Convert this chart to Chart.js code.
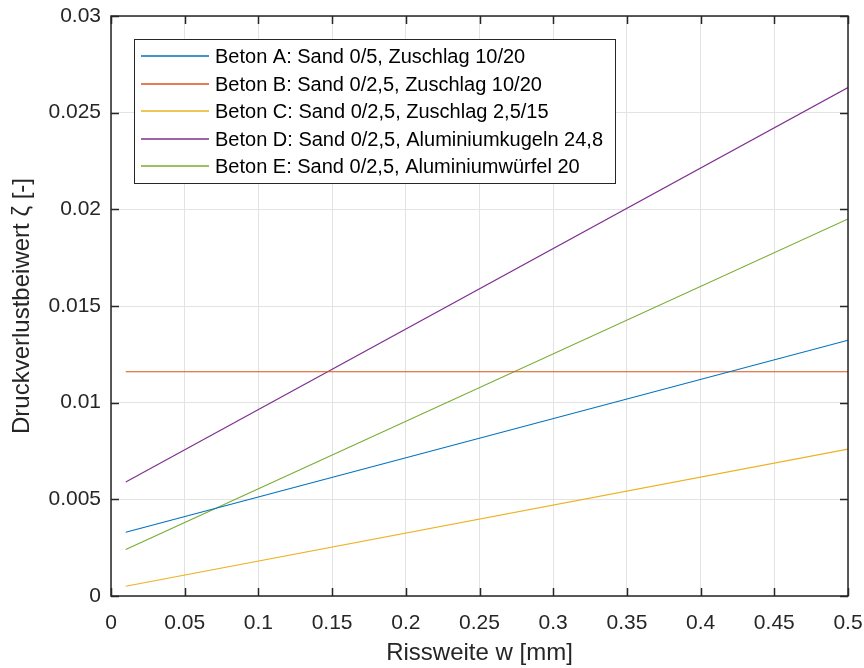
<!DOCTYPE html>
<html>
<head>
<meta charset="utf-8">
<script src="https://cdn.jsdelivr.net/npm/chart.js@4.4.1/dist/chart.umd.min.js"></script>
<style>
  html, body { margin: 0; padding: 0; background: #fff; }
  #wrap { width: 864px; height: 668px; }
</style>
</head>
<body>
<div id="wrap"><canvas id="c" width="864" height="668"></canvas></div>
<script>
// ---- data ----
const xValues = [0.01, 0.5];
const betonA = [0.0033, 0.01323];
const betonB = [0.0116, 0.0116];
const betonC = [0.0005, 0.0076];
const betonD = [0.0059, 0.0263];
const betonE = [0.0024, 0.0195];
const seriesNames = [
  'Beton A: Sand 0/5, Zuschlag 10/20',
  'Beton B: Sand 0/2,5, Zuschlag 10/20',
  'Beton C: Sand 0/2,5, Zuschlag 2,5/15',
  'Beton D: Sand 0/2,5, Aluminiumkugeln 24,8',
  'Beton E: Sand 0/2,5, Aluminiumwürfel 20'
];
const seriesColors = ['#0072BD', '#D95319', '#EDB120', '#7E2F8E', '#77AC30'];
const xTicks = [0, 0.05, 0.1, 0.15, 0.2, 0.25, 0.3, 0.35, 0.4, 0.45, 0.5];
const xTickLabels = ['0', '0.05', '0.1', '0.15', '0.2', '0.25', '0.3', '0.35', '0.4', '0.45', '0.5'];
const yTicks = [0, 0.005, 0.01, 0.015, 0.02, 0.025, 0.03];
const yTickLabels = ['0', '0.005', '0.01', '0.015', '0.02', '0.025', '0.03'];

const allSeries = [betonA, betonB, betonC, betonD, betonE];
const FONT = '"Liberation Sans", Arial, Helvetica, sans-serif';
const TXT = '#262626';

const datasets = allSeries.map((vals, i) => ({
  label: seriesNames[i],
  data: xValues.map((x, j) => ({ x: x, y: vals[j] })),
  borderColor: seriesColors[i],
  backgroundColor: seriesColors[i],
  borderWidth: 1.1,
  pointRadius: 0,
  fill: false,
  tension: 0
}));

function noPad(s) {
  s.paddingLeft = 0; s.paddingRight = 0; s.paddingTop = 0; s.paddingBottom = 0;
}

const boxPlugin = {
  id: 'boxTicks',
  afterDatasetsDraw(chart) {
    const { ctx, chartArea: a, scales } = chart;
    ctx.save();
    ctx.strokeStyle = TXT;
    ctx.lineWidth = 1.5;
    ctx.beginPath();
    ctx.rect(a.left, a.top, a.right - a.left, a.bottom - a.top);
    ctx.stroke();
    const L = 8;
    ctx.beginPath();
    xTicks.forEach(v => {
      const px = Math.round(scales.x.getPixelForValue(v)) + 0.5;
      ctx.moveTo(px, a.bottom); ctx.lineTo(px, a.bottom - L);
      ctx.moveTo(px, a.top); ctx.lineTo(px, a.top + L);
    });
    yTicks.forEach(v => {
      const py = Math.round(scales.y.getPixelForValue(v)) + 0.5;
      ctx.moveTo(a.left, py); ctx.lineTo(a.left + L, py);
      ctx.moveTo(a.right, py); ctx.lineTo(a.right - L, py);
    });
    ctx.stroke();
    ctx.restore();
  },
  afterDraw(chart) {
    const { ctx } = chart;
    const bx = 134.5, by = 39.5, bw = 481, bh = 144;
    ctx.save();
    ctx.fillStyle = '#ffffff';
    ctx.fillRect(bx, by, bw, bh);
    ctx.strokeStyle = '#262626';
    ctx.lineWidth = 1;
    ctx.strokeRect(bx, by, bw, bh);
    ctx.font = '20px ' + FONT;
    ctx.textBaseline = 'middle';
    ctx.textAlign = 'left';
    chart.data.datasets.forEach((ds, i) => {
      const cy = Math.round(56 + i * 27.5);
      ctx.strokeStyle = ds.borderColor;
      ctx.lineWidth = 1.5;
      ctx.beginPath();
      ctx.moveTo(141, cy);
      ctx.lineTo(209, cy);
      ctx.stroke();
      ctx.fillStyle = '#000000';
      ctx.fillText(ds.label, 215, cy + 1);
    });
    ctx.restore();
  }
};

new Chart(document.getElementById('c'), {
  type: 'line',
  data: { datasets: datasets },
  options: {
    responsive: false,
    animation: false,
    devicePixelRatio: 1,
    layout: { padding: { left: 0, right: 16, top: 16, bottom: 0 } },
    plugins: { legend: { display: false }, tooltip: { enabled: false } },
    scales: {
      x: {
        type: 'linear',
        min: 0, max: 0.5,
        afterBuildTicks: s => { s.ticks = xTicks.map(v => ({ value: v })); },
        afterFit: s => { s.height = 72; noPad(s); },
        grid: { color: '#e3e3e3', lineWidth: 1, drawTicks: false },
        border: { display: false },
        ticks: {
          color: TXT, padding: 15, maxRotation: 0, autoSkip: false,
          font: { family: FONT, size: 21 },
          callback: (v, i) => xTickLabels[i]
        },
        title: {
          display: true, text: 'Rissweite w [mm]', color: TXT,
          font: { family: FONT, size: 24 }, padding: { top: 0, bottom: 0 }
        }
      },
      y: {
        type: 'linear',
        min: 0, max: 0.03,
        afterBuildTicks: s => { s.ticks = yTicks.map(v => ({ value: v })); },
        afterFit: s => { s.width = 111; noPad(s); },
        grid: { color: '#e3e3e3', lineWidth: 1, drawTicks: false },
        border: { display: false },
        ticks: {
          color: TXT, padding: 10, autoSkip: false,
          font: { family: FONT, size: 21 },
          callback: (v, i) => yTickLabels[i]
        },
        title: {
          display: true, text: 'Druckverlustbeiwert ζ [-]', color: TXT,
          font: { family: FONT, size: 24 }, padding: { top: 8, bottom: 8 }
        }
      }
    }
  },
  plugins: [boxPlugin]
});
</script>
</body>
</html>
